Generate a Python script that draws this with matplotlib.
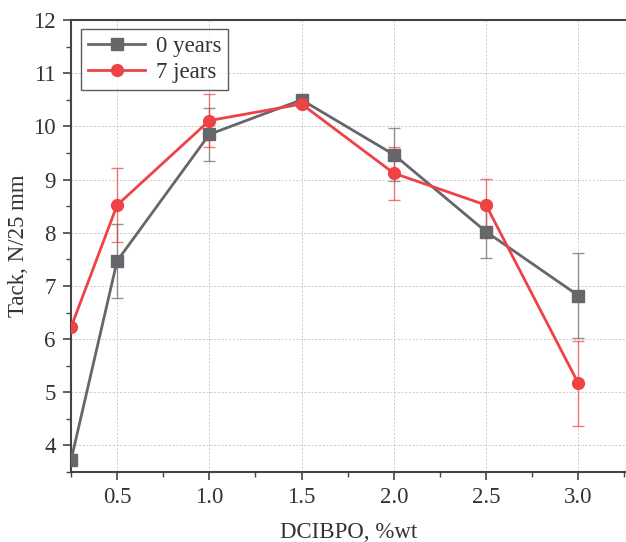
import numpy as np
import matplotlib.pyplot as plt
from matplotlib.ticker import MultipleLocator

plt.rcParams['font.family'] = ['Liberation Serif', 'DejaVu Serif']

x = [0.25, 0.5, 1.0, 1.5, 2.0, 2.5, 3.0]
y0 = [3.72, 7.47, 9.85, 10.5, 9.47, 8.02, 6.82]
e0 = [0.0, 0.70, 0.50, 0.05, 0.50, 0.50, 0.80]
y7 = [6.22, 8.52, 10.11, 10.42, 9.12, 8.52, 5.17]
e7 = [0.0, 0.70, 0.50, 0.05, 0.50, 0.50, 0.80]

grey = '#67676b'
red = '#ee4245'

fig = plt.figure(figsize=(6.26, 5.42), dpi=100)
ax = fig.add_axes([0.1134, 0.129, 0.887, 0.834])

ax.errorbar(x, y0, yerr=e0, fmt='none', ecolor=grey, elinewidth=1, capsize=4, capthick=1, alpha=0.7, zorder=2)
ax.errorbar(x, y7, yerr=e7, fmt='none', ecolor=red, elinewidth=1, capsize=4, capthick=1, alpha=0.7, zorder=2)
ax.plot(x, y0, color=grey, lw=2.0, marker='s', ms=8, label='0 years', zorder=3)
ax.plot(x, y7, color=red, lw=2.0, marker='o', ms=8.5, label='7 jears', zorder=4)

ax.set_xlim(0.25, 3.26)
ax.set_ylim(3.5, 12)
ax.xaxis.set_major_locator(MultipleLocator(0.5))
ax.xaxis.set_minor_locator(MultipleLocator(0.25))
ax.yaxis.set_major_locator(MultipleLocator(1))
ax.yaxis.set_minor_locator(MultipleLocator(0.5))
ax.set_xticks([0.5, 1.0, 1.5, 2.0, 2.5, 3.0])
ax.set_xticklabels(['0.5', '1.0', '1.5', '2.0', '2.5', '3.0'])
ax.set_yticks([4, 5, 6, 7, 8, 9, 10, 11, 12])

ax.tick_params(which='major', direction='out', length=6, width=1.2, color='#444444', labelsize=16.5,
               labelcolor='#333333', pad=5)
ax.tick_params(which='minor', direction='out', length=3.5, width=1.0, color='#444444')
ax.grid(True, which='major', ls=(0, (2.5, 2)), lw=0.6, color='#c4c4c4', zorder=0)
ax.set_axisbelow(True)

for s in ['left', 'bottom', 'top']:
    ax.spines[s].set_color('#444444')
    ax.spines[s].set_linewidth(1.5)
ax.spines['right'].set_visible(False)

ax.set_xlabel('DCIBPO, %wt', fontsize=16.5, color='#333333', labelpad=10)
ax.set_ylabel('Tack, N/25 mm', fontsize=16.5, color='#333333', labelpad=3)

leg = ax.legend(loc='upper left', bbox_to_anchor=(0.01, 0.99), fontsize=16.5, frameon=True, fancybox=False,
                handlelength=2.5, borderpad=0.3, labelspacing=0.2, handletextpad=0.45, borderaxespad=0.2)
leg.get_frame().set_edgecolor('#333333')
leg.get_frame().set_linewidth(1.0)
for t in leg.get_texts():
    t.set_color('#333333')

fig.savefig('out.png', dpi=100)
